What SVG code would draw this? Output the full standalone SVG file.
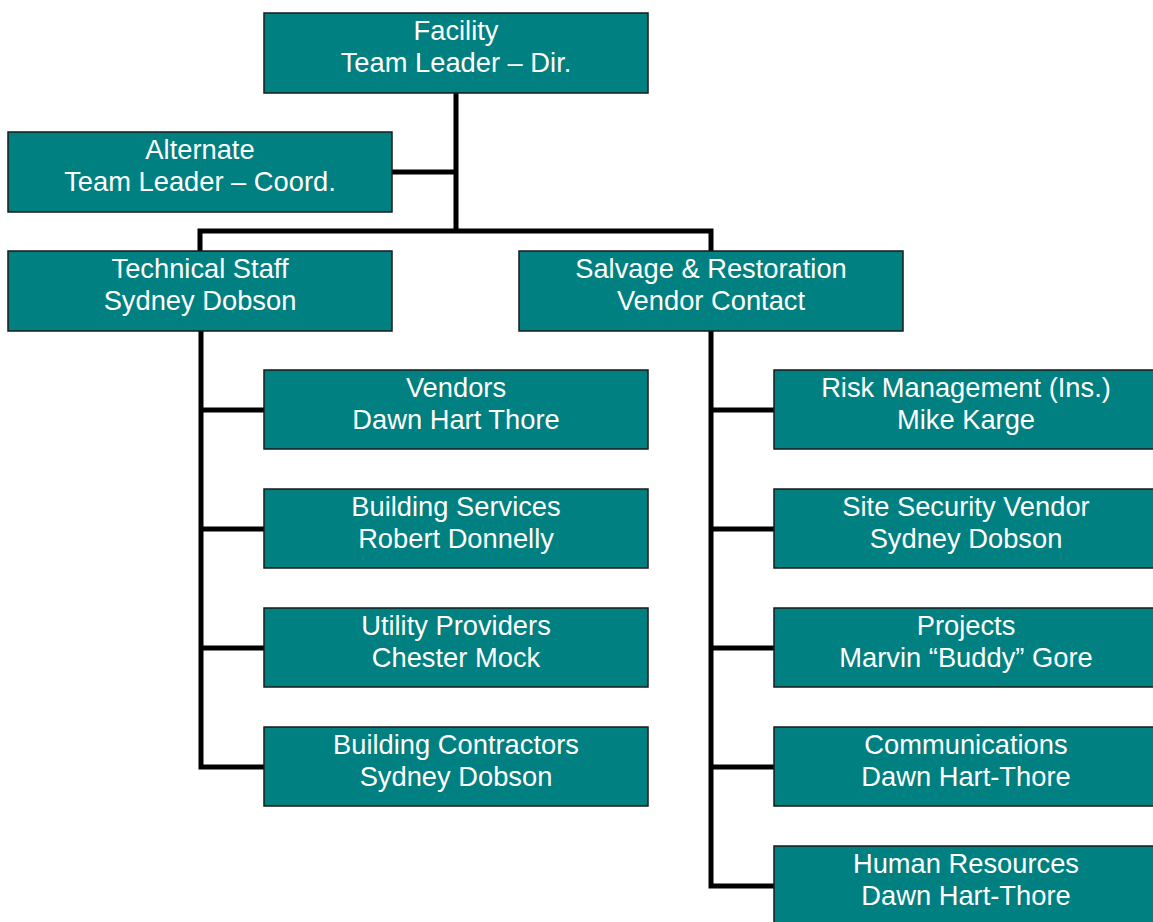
<svg xmlns="http://www.w3.org/2000/svg" width="1153" height="922" viewBox="0 0 1153 922">
  <style>
    .box { fill: #008080; stroke: #1a1a1a; stroke-width: 1.5; }
    .lbl { fill: #ffffff; font-family: "Liberation Sans", Arial, sans-serif; font-size: 27.3px; text-anchor: middle; }
    .wire { fill: none; stroke: #000000; stroke-width: 5; stroke-linejoin: miter; }
  </style>
  <rect x="0" y="0" width="1153" height="922" fill="#ffffff"/>

  <!-- connectors -->
  <g id="connectors">
    <path class="wire" d="M456 93 V231"/>
    <path class="wire" d="M392 172 H456"/>
    <path class="wire" d="M200 251 V231 H711 V251"/>
    <path class="wire" d="M264 767 H201 V331"/>
    <path class="wire" d="M201 410 H264 M201 529 H264 M201 648 H264"/>
    <path class="wire" d="M774 886 H711 V331"/>
    <path class="wire" d="M711 410 H774 M711 529 H774 M711 648 H774 M711 767 H774"/>
  </g>

  <g id="facility">
    <rect class="box" x="264" y="13" width="384" height="80"/>
    <text class="lbl" x="456" y="40">Facility</text>
    <text class="lbl" x="456" y="72">Team Leader – Dir.</text>
  </g>
  <g id="alternate">
    <rect class="box" x="8" y="132" width="384" height="80"/>
    <text class="lbl" x="200" y="159">Alternate</text>
    <text class="lbl" x="200" y="191">Team Leader – Coord.</text>
  </g>
  <g id="technical-staff">
    <rect class="box" x="8" y="251" width="384" height="80"/>
    <text class="lbl" x="200" y="278">Technical Staff</text>
    <text class="lbl" x="200" y="310">Sydney Dobson</text>
  </g>
  <g id="salvage">
    <rect class="box" x="519" y="251" width="384" height="80"/>
    <text class="lbl" x="711" y="278">Salvage &amp; Restoration</text>
    <text class="lbl" x="711" y="310">Vendor Contact</text>
  </g>

  <g id="vendors">
    <rect class="box" x="264" y="370" width="384" height="79"/>
    <text class="lbl" x="456" y="397">Vendors</text>
    <text class="lbl" x="456" y="429">Dawn Hart Thore</text>
  </g>
  <g id="building-services">
    <rect class="box" x="264" y="489" width="384" height="79"/>
    <text class="lbl" x="456" y="516">Building Services</text>
    <text class="lbl" x="456" y="548">Robert Donnelly</text>
  </g>
  <g id="utility-providers">
    <rect class="box" x="264" y="608" width="384" height="79"/>
    <text class="lbl" x="456" y="635">Utility Providers</text>
    <text class="lbl" x="456" y="667">Chester Mock</text>
  </g>
  <g id="building-contractors">
    <rect class="box" x="264" y="727" width="384" height="79"/>
    <text class="lbl" x="456" y="754">Building Contractors</text>
    <text class="lbl" x="456" y="786">Sydney Dobson</text>
  </g>

  <g id="risk-management">
    <rect class="box" x="774" y="370" width="384" height="79"/>
    <text class="lbl" x="966" y="397">Risk Management (Ins.)</text>
    <text class="lbl" x="966" y="429">Mike Karge</text>
  </g>
  <g id="site-security">
    <rect class="box" x="774" y="489" width="384" height="79"/>
    <text class="lbl" x="966" y="516">Site Security Vendor</text>
    <text class="lbl" x="966" y="548">Sydney Dobson</text>
  </g>
  <g id="projects">
    <rect class="box" x="774" y="608" width="384" height="79"/>
    <text class="lbl" x="966" y="635">Projects</text>
    <text class="lbl" x="966" y="667">Marvin “Buddy” Gore</text>
  </g>
  <g id="communications">
    <rect class="box" x="774" y="727" width="384" height="79"/>
    <text class="lbl" x="966" y="754">Communications</text>
    <text class="lbl" x="966" y="786">Dawn Hart-Thore</text>
  </g>
  <g id="human-resources">
    <rect class="box" x="774" y="846" width="384" height="80"/>
    <text class="lbl" x="966" y="873">Human Resources</text>
    <text class="lbl" x="966" y="905">Dawn Hart-Thore</text>
  </g>
</svg>
